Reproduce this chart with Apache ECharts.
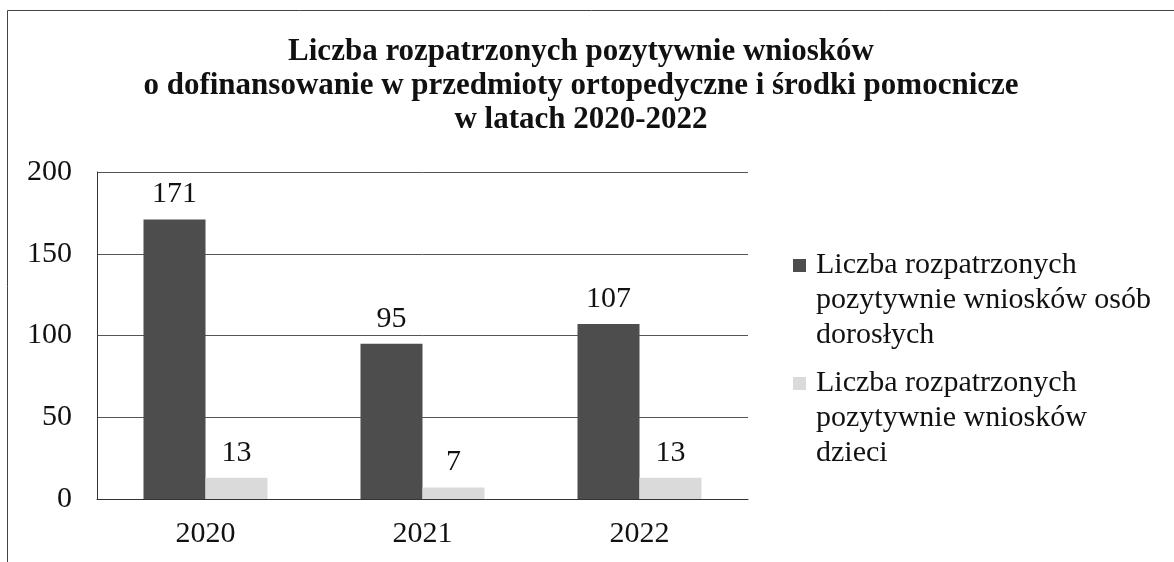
<!DOCTYPE html>
<html>
<head>
<meta charset="utf-8">
<script src="https://cdn.jsdelivr.net/npm/echarts@6/dist/echarts.min.js"></script>
<style>
  html, body { margin: 0; padding: 0; background: #fff; }
  #chart { width: 1174px; height: 562px; }
</style>
</head>
<body>
<div id="chart"></div>
<script>
// dane z wykresu
const years = ['2020', '2021', '2022'];
const adults = [171, 95, 107];
const children = [13, 7, 13];
const seriesNames = [
  'Liczba rozpatrzonych pozytywnie wniosków osób dorosłych',
  'Liczba rozpatrzonych pozytywnie wniosków dzieci'
];
const legendLines = {
  'Liczba rozpatrzonych pozytywnie wniosków osób dorosłych': ['Liczba rozpatrzonych', 'pozytywnie wniosków osób', 'dorosłych'],
  'Liczba rozpatrzonych pozytywnie wniosków dzieci': ['Liczba rozpatrzonych', 'pozytywnie wniosków', 'dzieci']
};
const yTicks = { min: 0, max: 200, interval: 50 };

const FONT = '"Liberation Serif", "Times New Roman", serif';
const DARK = '#4d4d4d';
const LIGHT = '#dadada';

const chart = echarts.init(document.getElementById('chart'));

function legendFormatter(name) {
  const lines = legendLines[name];
  const mark = name === seriesNames[0] ? 'a' : 'b';
  return lines.map((l, i) => (i === 0 ? '{' + mark + '|}{g|}{t|' + l + '}' : '{sp|}{t|' + l + '}')).join('\n');
}

chart.setOption({
  backgroundColor: '#fff',
  animation: false,
  title: {
    text: 'Liczba rozpatrzonych pozytywnie wniosków\no dofinansowanie w przedmioty ortopedyczne i środki pomocnicze\nw latach 2020-2022',
    left: 576,
    textAlign: 'center',
    top: 30,
    textStyle: {
      fontFamily: FONT,
      fontWeight: 'bold',
      fontSize: 31,
      lineHeight: 34,
      color: '#111'
    }
  },
  legend: {
    orient: 'vertical',
    left: 788,
    top: 248,
    padding: 0,
    icon: 'none',
    itemWidth: 0,
    itemHeight: 0,
    itemGap: 13,
    data: seriesNames,
    formatter: legendFormatter,
    selectedMode: false,
    textStyle: {
      fontFamily: FONT,
      fontSize: 30,
      color: '#111',
      lineHeight: 35,
      rich: {
        t: { fontFamily: FONT, fontSize: 30, lineHeight: 35, color: '#111' },
        a: { width: 13, height: 13, backgroundColor: DARK },
        b: { width: 13, height: 13, backgroundColor: LIGHT },
        g: { width: 10, height: 13 },
        sp: { width: 23, height: 13 }
      }
    }
  },
  grid: {
    left: 97,
    right: 1174 - 748,
    top: 172,
    bottom: 562 - 499
  },
  xAxis: {
    type: 'category',
    data: years,
    axisLine: { show: true, lineStyle: { color: '#333', width: 1 } },
    axisTick: { show: false },
    axisLabel: {
      fontFamily: FONT,
      fontSize: 30,
      color: '#111',
      margin: 20
    }
  },
  yAxis: {
    type: 'value',
    min: yTicks.min,
    max: yTicks.max,
    interval: yTicks.interval,
    axisLine: { show: true, lineStyle: { color: '#333', width: 1 } },
    axisTick: { show: false },
    splitLine: { show: true, lineStyle: { color: '#555', width: 1 } },
    axisLabel: {
      fontFamily: FONT,
      fontSize: 30,
      color: '#111',
      margin: 25
    }
  },
  series: [
    {
      name: seriesNames[0],
      type: 'bar',
      data: adults,
      barWidth: 62,
      barGap: '0%',
      itemStyle: { color: DARK },
      label: {
        show: true,
        position: 'top',
        distance: 10,
        fontFamily: FONT,
        fontSize: 30,
        color: '#111'
      }
    },
    {
      name: seriesNames[1],
      type: 'bar',
      data: children,
      barWidth: 62,
      itemStyle: { color: LIGHT },
      label: {
        show: true,
        position: 'top',
        distance: 10,
        fontFamily: FONT,
        fontSize: 30,
        color: '#111'
      }
    }
  ],
  graphic: [
    {
      type: 'rect',
      shape: { x: 7.5, y: 10.5, width: 1200, height: 600 },
      style: { fill: 'none', stroke: '#444', lineWidth: 1 },
      silent: true
    }
  ]
});
</script>
</body>
</html>
